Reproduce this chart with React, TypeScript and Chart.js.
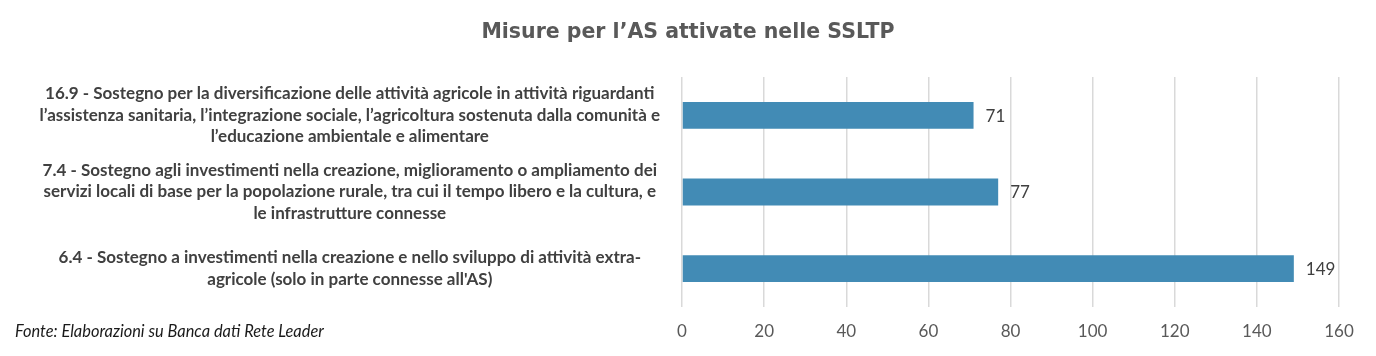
import React, { useEffect, useRef } from "react";
import { Chart, registerables } from "chart.js";

Chart.register(...registerables);

const chartTitle = "Misure per l’AS attivate nelle SSLTP";
const sourceNote = "Fonte: Elaborazioni su Banca dati Rete Leader";

const categories: string[][] = [
  [
    "16.9 - Sostegno per la diversificazione delle attività agricole in attività riguardanti",
    "l’assistenza sanitaria, l’integrazione sociale, l’agricoltura sostenuta dalla comunità e",
    "l’educazione ambientale e alimentare",
  ],
  [
    "7.4 - Sostegno agli investimenti nella creazione, miglioramento o ampliamento dei",
    "servizi locali di base per la popolazione rurale, tra cui il tempo libero e la cultura, e",
    "le infrastrutture connesse",
  ],
  [
    "6.4 - Sostegno a investimenti nella creazione e nello sviluppo di attività extra-",
    "agricole (solo in parte connesse all'AS)",
  ],
];

const values: number[] = [71, 77, 149];

const axisMin = 0;
const axisMax = 160;
const axisStep = 20;

const BAR_COLOR = "#428bb5";
const LABEL_FONT = "Lato, 'Open Sans', sans-serif";

const valueLabelPlugin = {
  id: "valueLabels",
  afterDatasetsDraw(chart: any) {
    const ctx = chart.ctx;
    const meta = chart.getDatasetMeta(0);
    ctx.save();
    ctx.font = `17px ${LABEL_FONT}`;
    ctx.fillStyle = "#404040";
    ctx.textAlign = "left";
    ctx.textBaseline = "middle";
    meta.data.forEach((el: any, i: number) => {
      const v = chart.data.datasets[0].data[i];
      ctx.fillText(String(v), el.x + 12, el.y + 1);
    });
    ctx.restore();
  },
};

export default function App() {
  const canvasRef = useRef<HTMLCanvasElement | null>(null);

  useEffect(() => {
    if (!canvasRef.current) return;
    const chart = new Chart(canvasRef.current, {
      type: "bar",
      data: {
        labels: categories,
        datasets: [
          {
            data: values,
            backgroundColor: BAR_COLOR,
            borderWidth: 0,
            barPercentage: 0.35,
            categoryPercentage: 1,
          },
        ],
      },
      options: {
        indexAxis: "y",
        animation: false,
        responsive: false,
        maintainAspectRatio: false,
        layout: { padding: 0 },
        plugins: {
          legend: { display: false },
          tooltip: { enabled: false },
          title: {
            display: true,
            text: chartTitle,
            color: "#595959",
            font: { family: "'DejaVu Sans', sans-serif", size: 20.5, weight: "bold", lineHeight: 1.2 },
            padding: { top: 20.7, bottom: 31.7 },
          },
        },
        scales: {
          x: {
            type: "linear",
            min: axisMin,
            max: axisMax,
            ticks: {
              stepSize: axisStep,
              color: "#595959",
              font: { family: LABEL_FONT, size: 17 },
              padding: 14,
            },
            grid: {
              color: "#d9d9d9",
              lineWidth: 1.5,
              drawTicks: false,
            },
            border: { display: false },
            afterFit(scale: any) {
              scale.height = 49;
              scale.paddingLeft = 0;
              scale.paddingRight = 37;
            },
          },
          y: {
            type: "category",
            ticks: {
              color: "#404040",
              font: { family: LABEL_FONT, size: 17, weight: "bold", lineHeight: 1.265 },
              crossAlign: "center",
              padding: 22,
              autoSkip: false,
            },
            grid: { display: false, drawTicks: false },
            border: { display: false },
            afterFit(scale: any) {
              scale.width = 682;
              scale.paddingTop = 0;
              scale.paddingBottom = 0;
            },
          },
        },
      },
      plugins: [valueLabelPlugin],
    });
    return () => chart.destroy();
  }, []);

  return (
    <div style={{ position: "fixed", left: 0, top: 0, width: 1376, height: 356, background: "#fff" }}>
      <canvas ref={canvasRef} width={1376} height={356} style={{ display: "block" }} />
      <div
        style={{
          position: "absolute",
          left: 15,
          top: 321,
          fontFamily: LABEL_FONT,
          fontStyle: "italic",
          fontSize: 16.4,
          lineHeight: "19px",
          color: "#1a1a1a",
          whiteSpace: "nowrap",
        }}
      >
        {sourceNote}
      </div>
    </div>
  );
}
